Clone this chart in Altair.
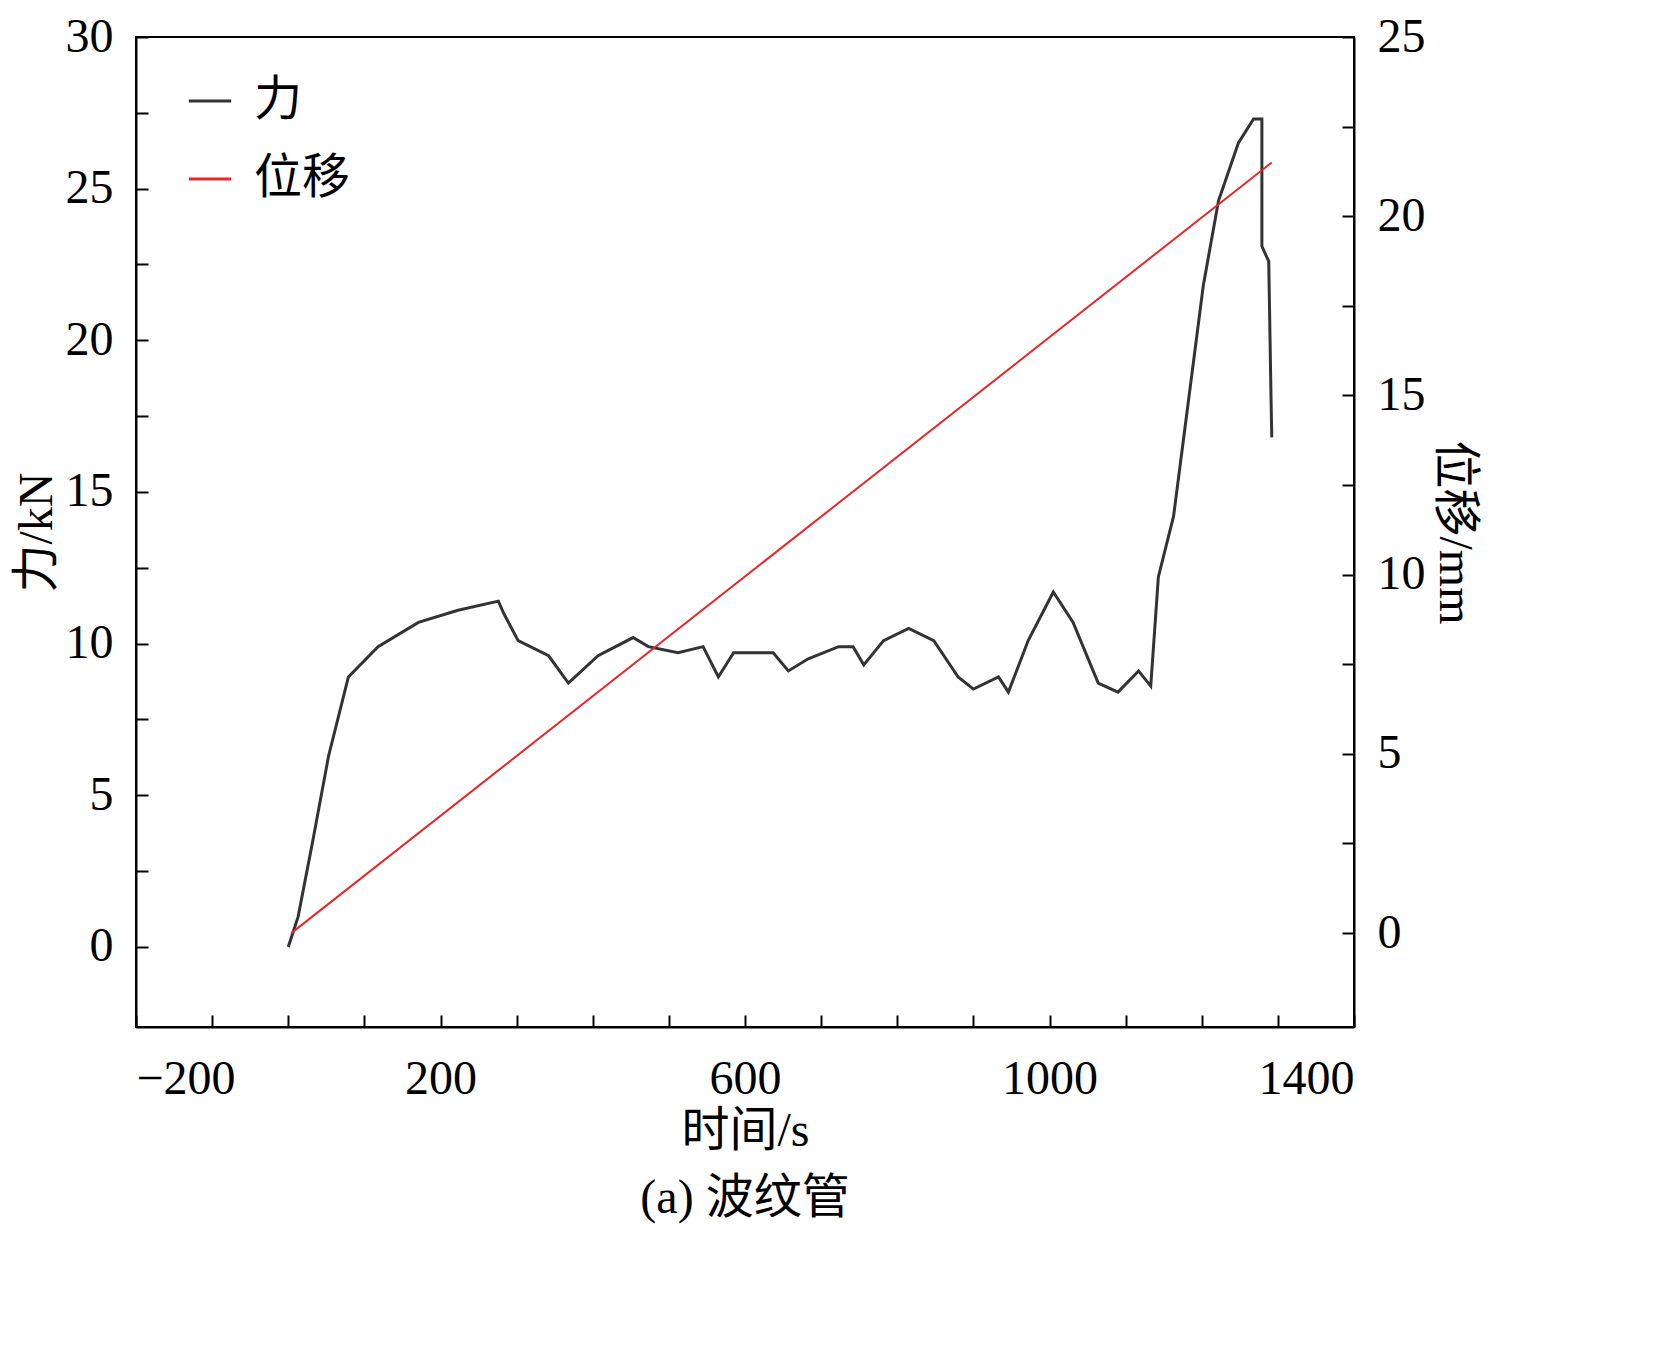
import altair as alt
import pandas as pd

# force curve
t_force = [0, 13, 33, 53, 79, 118, 171, 223, 276, 283, 302, 342, 368, 407, 453, 473,
           512, 545, 565, 585, 637, 657, 683, 723, 742, 756, 782, 815, 848, 880, 900,
           933, 946, 972, 1005, 1031, 1064, 1090, 1117, 1133, 1143, 1163, 1183, 1202,
           1222, 1248, 1268, 1279, 1279, 1288, 1291, 1292]
force = [0, 1.0, 3.6, 6.3, 8.9, 9.9, 10.7, 11.1, 11.4, 11.0, 10.1, 9.6, 8.7, 9.6, 10.2,
         9.9, 9.7, 9.9, 8.9, 9.7, 9.7, 9.1, 9.5, 9.9, 9.9, 9.3, 10.1, 10.5, 10.1, 8.9,
         8.5, 8.9, 8.4, 10.1, 11.7, 10.7, 8.7, 8.4, 9.1, 8.6, 12.2, 14.2, 18.1, 21.8,
         24.6, 26.5, 27.3, 27.3, 23.1, 22.6, 18.1, 16.8]

t_disp = [4, 1292]
disp = [0.0, 21.5]

FONT = "Liberation Serif, Noto Sans CJK SC"
FS = 48
TICK_IN = alt.ExprRef(expr="-12")

df_f = pd.DataFrame({"t": t_force, "v": force, "s": "力"})
df_d = pd.DataFrame({"t": t_disp, "v": disp, "s": "位移"})

color = alt.Color("s:N", scale=alt.Scale(domain=["力", "位移"], range=["#333333", "#e8262a"]),
                  legend=alt.Legend(title=None, orient="none", legendX=50, legendY=40,
                                    symbolType="stroke", symbolSize=1800, symbolStrokeWidth=3,
                                    labelFontSize=FS, labelFont=FONT, rowPadding=30,
                                    labelOffset=20))

x = alt.X("t:Q", title="时间/s", scale=alt.Scale(domain=[-200, 1400], nice=False),
          axis=alt.Axis(values=list(range(-200, 1401, 100)),
                        labelExpr="(datum.value + 200) % 400 == 0 ? datum.label : ''",
                        format="d", tickSize=TICK_IN, labelPadding=40, grid=False))

force_line = alt.Chart(df_f).mark_line(strokeWidth=3).encode(
    x=x,
    y=alt.Y("v:Q", title="力/kN", scale=alt.Scale(domain=[-2.64, 30], nice=False, zero=False),
            axis=alt.Axis(values=[i * 2.5 for i in range(13)],
                          labelExpr="datum.value % 5 == 0 ? datum.label : ''",
                          tickSize=TICK_IN, labelPadding=35, grid=False)),
    color=color,
)

disp_line = alt.Chart(df_d).mark_line(strokeWidth=2).encode(
    x=x,
    y=alt.Y("v:Q", title="位移/mm", scale=alt.Scale(domain=[-2.62, 25], nice=False, zero=False),
            axis=alt.Axis(orient="right", values=[i * 2.5 for i in range(11)],
                          labelExpr="datum.value % 5 == 0 ? datum.label : ''",
                          tickSize=TICK_IN, labelPadding=35, grid=False)),
    color=color,
)

chart = alt.layer(force_line, disp_line).resolve_scale(y="independent").properties(
    width=1218, height=990,
    title=alt.TitleParams("(a) 波纹管", orient="bottom", fontSize=FS, font=FONT,
                          fontWeight="normal", offset=20),
).configure_axis(
    labelFont=FONT, titleFont=FONT, labelFontSize=FS, titleFontSize=FS,
    titleFontWeight="normal", labelColor="black", titleColor="black",
    domainColor="black", tickColor="black", domainWidth=2, tickWidth=2,
).configure_view(stroke="black", strokeWidth=2)

chart.save("out.html", embed_options={"renderer": "svg", "actions": False})
